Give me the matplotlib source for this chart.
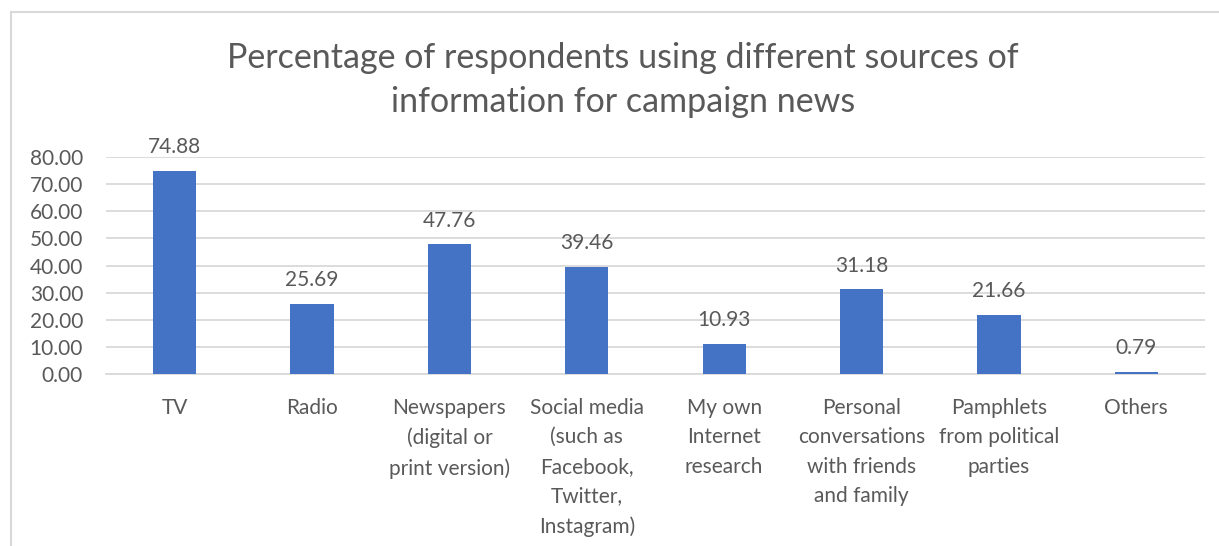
import matplotlib.pyplot as plt
from matplotlib.lines import Line2D

categories = ['TV', 'Radio', 'Newspapers\n(digital or\nprint version)',
              'Social media\n(such as\nFacebook,\nTwitter,\nInstagram)',
              'My own\nInternet\nresearch',
              'Personal\nconversations\nwith friends\nand family',
              'Pamphlets\nfrom political\nparties', 'Others']
percentages = [74.88, 25.69, 47.76, 39.46, 10.93, 31.18, 21.66, 0.79]
yticks = [0, 10, 20, 30, 40, 50, 60, 70, 80]

textGrey = '#595959'
barBlue = '#4472C4'
gridGrey = '#D9D9D9'

plt.rcParams['font.family'] = ['Lato', 'DejaVu Sans']

W, H = 1219, 546
fig = plt.figure(figsize=(W / 100, H / 100), dpi=100)

# chart border (only left and top edges fall inside the image)
fig.add_artist(Line2D([11 / W, 11 / W], [0, 1 - 12 / H], color=gridGrey, lw=1.5))
fig.add_artist(Line2D([11 / W, 1], [1 - 12 / H, 1 - 12 / H], color=gridGrey, lw=1.5))

ax = fig.add_axes([106 / W, 1 - 374 / H, (1205 - 106) / W, (374 - 157) / H])

x = list(range(len(categories)))
ax.bar(x, percentages, width=0.315, color=barBlue, zorder=3)
for xi, v in zip(x, percentages):
    ax.annotate('{:.2f}'.format(v), (xi, v), xytext=(0, 10), textcoords='offset points',
                ha='center', va='bottom', fontsize=15, color=textGrey, zorder=4)

ax.set_xlim(-0.5, len(categories) - 0.5)
ax.set_ylim(0, 80)
ax.set_yticks(yticks)
ax.set_yticklabels(['{:.2f}'.format(t) for t in yticks])
ax.set_xticks(x)
ax.set_xticklabels(categories, linespacing=1.6)
ax.tick_params(axis='both', length=0, colors=textGrey, labelsize=15)
ax.tick_params(axis='x', pad=17)
ax.tick_params(axis='y', pad=16.5)
ax.grid(axis='y', color=gridGrey, lw=1.3, zorder=0)
for side in ['top', 'right', 'left']:
    ax.spines[side].set_visible(False)
ax.spines['bottom'].set_color(gridGrey)
ax.spines['bottom'].set_linewidth(1.3)

fig.text(623 / W, 1 - 80 / H,
         'Percentage of respondents using different sources of\ninformation for campaign news',
         ha='center', va='center', fontsize=24.5, color=textGrey, linespacing=1.45)

plt.savefig('out.png', dpi=100)
